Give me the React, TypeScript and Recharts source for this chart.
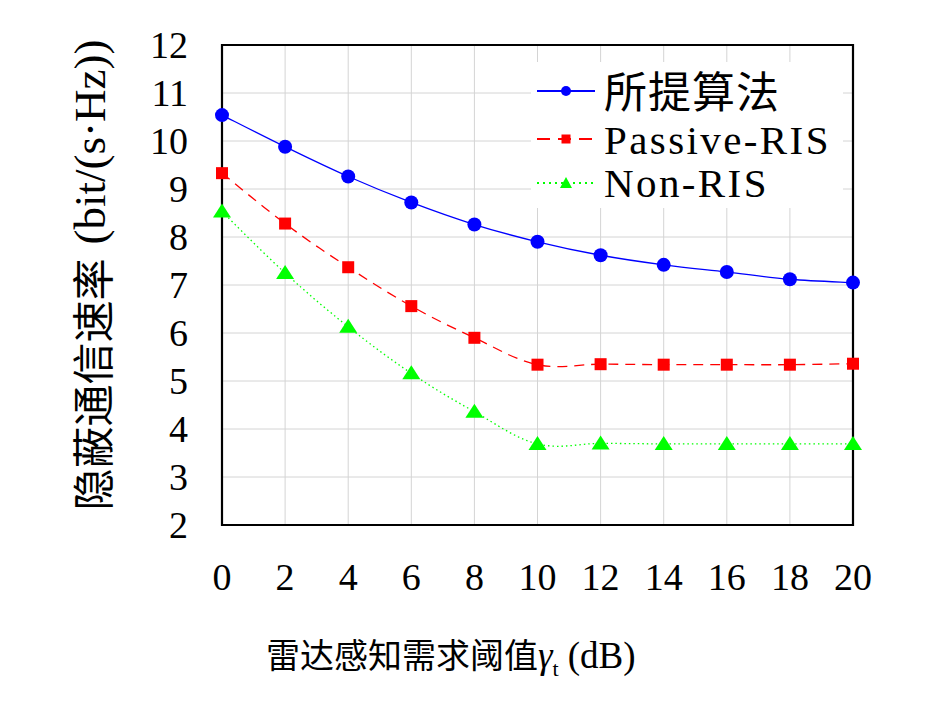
import React from 'react';
import { LineChart, Line, XAxis, YAxis, CartesianGrid, ReferenceArea } from 'recharts';

const xValues = [0, 2, 4, 6, 8, 10, 12, 14, 16, 18, 20];
const proposed = [10.54, 9.88, 9.26, 8.72, 8.26, 7.9, 7.62, 7.42, 7.27, 7.12, 7.05];
const passiveRis = [9.33, 8.28, 7.37, 6.56, 5.9, 5.34, 5.35, 5.34, 5.34, 5.34, 5.36];
const nonRis = [8.53, 7.25, 6.13, 5.16, 4.36, 3.69, 3.7, 3.69, 3.69, 3.69, 3.69];
const xTicks = [0, 2, 4, 6, 8, 10, 12, 14, 16, 18, 20];
const yTicks = [2, 3, 4, 5, 6, 7, 8, 9, 10, 11, 12];
const seriesNames = ['所提算法', 'Passive-RIS', 'Non-RIS'];
const xLabelCjk = '雷达感知需求阈值';
const yLabelCjk = '隐蔽通信速率';
const yLabelUnit = '(bit/(s·Hz))';

const data = xValues.map((x, i) => ({ x, a: proposed[i], b: passiveRis[i], c: nonRis[i] }));

const BLUE = '#0000FF';
const RED = '#FF0000';
const GREEN = '#00FF00';
const SERIF = '"Liberation Serif", "DejaVu Serif", serif';
const CJK = '"Noto Sans CJK SC", sans-serif';

// TikZ-like smooth curve (cardinal spline through points)
const smoothCurve = (k: number) => (context: any) => {
  let pts: [number, number][] = [];
  return {
    areaStart() {},
    areaEnd() {},
    lineStart() {
      pts = [];
    },
    point(x: number, y: number) {
      pts.push([+x, +y]);
    },
    lineEnd() {
      const n = pts.length;
      if (!n) return;
      context.moveTo(pts[0][0], pts[0][1]);
      for (let i = 0; i < n - 1; i++) {
        const p0 = pts[Math.max(i - 1, 0)];
        const p1 = pts[i];
        const p2 = pts[i + 1];
        const p3 = pts[Math.min(i + 2, n - 1)];
        context.bezierCurveTo(
          p1[0] + k * (p2[0] - p0[0]),
          p1[1] + k * (p2[1] - p0[1]),
          p2[0] - k * (p3[0] - p1[0]),
          p2[1] - k * (p3[1] - p1[1]),
          p2[0],
          p2[1]
        );
      }
    },
  };
};
const curve = smoothCurve(0.18);

const SquareDot = (props: any) => {
  const { cx, cy, index } = props;
  if (cx == null || cy == null) return <g key={`s${index}`} />;
  return <rect key={`s${index}`} x={cx - 6} y={cy - 6} width={12} height={12} fill={RED} />;
};
const TriDot = (props: any) => {
  const { cx, cy, index } = props;
  if (cx == null || cy == null) return <g key={`t${index}`} />;
  return (
    <polygon
      key={`t${index}`}
      points={`${cx - 9},${cy + 6} ${cx + 9},${cy + 6} ${cx},${cy - 8}`}
      fill={GREEN}
    />
  );
};

const tickStyle = { fontFamily: SERIF, fontSize: 38, fill: '#000' };

export default function App() {
  const legendRows = [
    { color: BLUE, dash: '', cy: 91 },
    { color: RED, dash: '13 8', cy: 139 },
    { color: GREEN, dash: '2 4', cy: 183 },
  ];
  return (
    <div style={{ position: 'absolute', left: 0, top: 0, width: 945, height: 711, background: '#fff' }}>
      <LineChart width={945} height={711} data={data} margin={{ top: 45, right: 92, bottom: 126, left: 0 }}>
        <CartesianGrid stroke="#d4d4d4" strokeWidth={1} horizontalValues={yTicks} verticalValues={xTicks} />
        <XAxis
          dataKey="x"
          type="number"
          domain={[0, 20]}
          ticks={xTicks}
          height={60}
          tickSize={0}
          tickMargin={38}
          axisLine={false}
          tickLine={false}
          tick={tickStyle}
          interval={0}
        />
        <YAxis
          type="number"
          domain={[2, 12]}
          ticks={yTicks}
          width={222}
          tickSize={0}
          tickMargin={34}
          axisLine={false}
          tickLine={false}
          tick={tickStyle}
          interval={0}
        />
        <ReferenceArea x1={0} x2={20} y1={2} y2={12} fill="none" stroke="#000" strokeWidth={2.2} ifOverflow="visible" />
        <Line
          dataKey="c"
          type={curve as any}
          stroke={GREEN}
          strokeWidth={1.3}
          strokeDasharray="1.5 3"
          dot={TriDot}
          activeDot={false}
          isAnimationActive={false}
        />
        <Line
          dataKey="b"
          type={curve as any}
          stroke={RED}
          strokeWidth={1.3}
          strokeDasharray="10 7"
          dot={SquareDot}
          activeDot={false}
          isAnimationActive={false}
        />
        <Line
          dataKey="a"
          type={curve as any}
          stroke={BLUE}
          strokeWidth={1.3}
          dot={{ r: 7, fill: BLUE, stroke: BLUE, strokeWidth: 0 }}
          activeDot={false}
          isAnimationActive={false}
        />
      </LineChart>

      <svg
        width={945}
        height={711}
        style={{ position: 'absolute', left: 0, top: 0, pointerEvents: 'none' }}
      >
        {/* Legend */}
        <rect x={531} y={62} width={312} height={146} fill="#fff" />
        {legendRows.map((r, i) => (
          <g key={`lg${i}`}>
            <line x1={537} y1={r.cy} x2={595} y2={r.cy} stroke={r.color} strokeWidth={2.2} strokeDasharray={r.dash} />
            {i === 0 && <circle cx={566} cy={r.cy} r={5} fill={r.color} />}
            {i === 1 && <rect x={561.5} y={r.cy - 4.5} width={9} height={9} fill={r.color} />}
            {i === 2 && <polygon points={`560,${r.cy + 5} 572,${r.cy + 5} 566,${r.cy - 6}`} fill={r.color} />}
          </g>
        ))}
        <text x={604} y={108} fontFamily={CJK} fontSize={43} letterSpacing={1} fill="#000">
          {seriesNames[0]}
        </text>
        <text x={604} y={154} fontFamily={SERIF} fontSize={41} letterSpacing={2.4} fill="#000">
          {seriesNames[1]}
        </text>
        <text x={604} y={197} fontFamily={SERIF} fontSize={41} letterSpacing={2.4} fill="#000">
          {seriesNames[2]}
        </text>

        {/* Y axis label */}
        <text
          x={90}
          y={275}
          transform="rotate(-90, 90, 275)"
          textAnchor="middle"
          dominantBaseline="central"
          fill="#000"
        >
          <tspan fontFamily={CJK} fontSize={42}>
            {yLabelCjk}
          </tspan>
          <tspan fontFamily={SERIF} fontSize={45} dx={14}>
            {yLabelUnit}
          </tspan>
        </text>

        {/* X axis label */}
        <text x={266} y={668} fill="#000">
          <tspan fontFamily={CJK} fontSize={34}>
            {xLabelCjk}
          </tspan>
          <tspan fontFamily={SERIF} fontSize={37} fontStyle="italic">
            γ
          </tspan>
          <tspan fontFamily={SERIF} fontSize={22} dy={8}>
            t
          </tspan>
          <tspan fontFamily={SERIF} fontSize={37} dy={-8} dx={9}>
            (dB)
          </tspan>
        </text>
      </svg>
    </div>
  );
}
